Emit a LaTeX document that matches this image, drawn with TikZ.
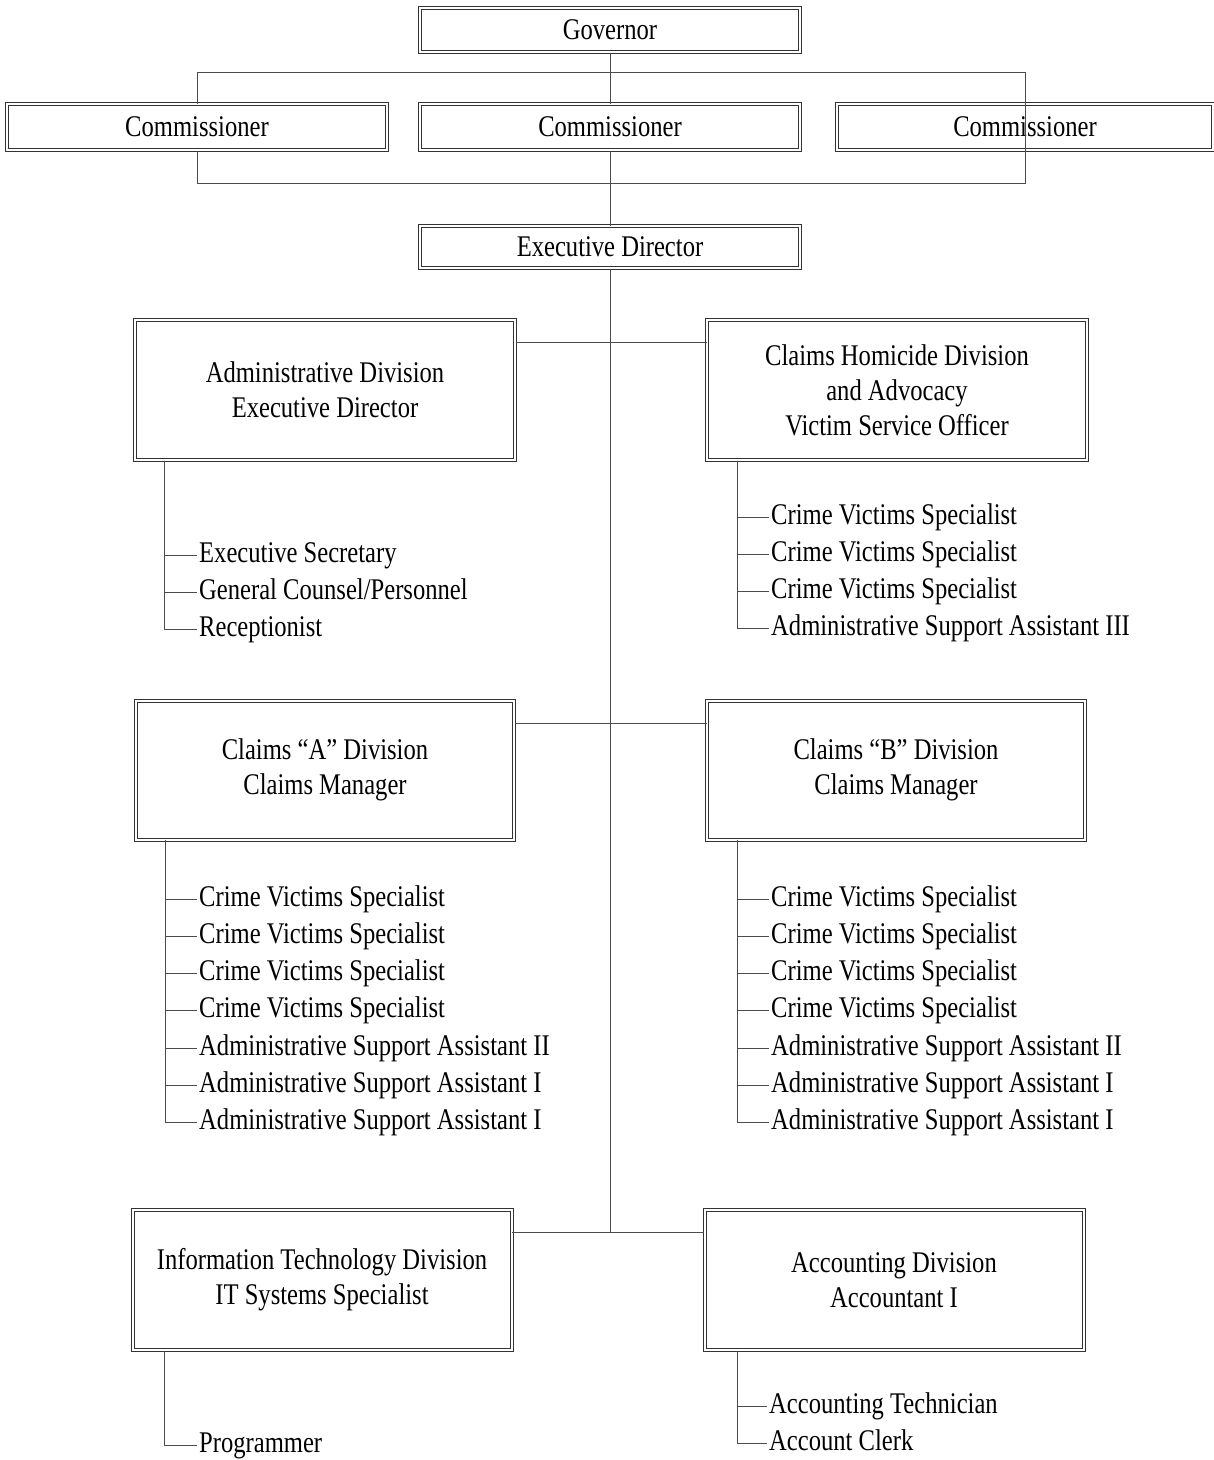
\documentclass[tikz,border=0pt]{standalone}
\usepackage{fontspec}
\setmainfont[FakeStretch=0.82]{Liberation Serif}
\usetikzlibrary{positioning}
\newcommand\chartfont{\fontsize{30}{35}\selectfont}

\begin{document}
\begin{tikzpicture}[
        x=1pt, y=-1pt,
        post/.style={draw=black!80, double=white, double distance=2pt, line width=1pt, rectangle, minimum width=#1, align=center, font=\chartfont, inner sep=2pt},
        post/.default=380pt,
        link/.style={draw=black!70, line width=0.8pt},
        staff/.style={anchor=west, inner xsep=2pt, inner ysep=0pt, text height=20pt, text depth=6pt, font=\chartfont}
    ]
        \useasboundingbox (0,0) rectangle (1214,1460);

        % Top boxes
        \node[post, minimum height=44pt] (gov) at (610,30) {Governor};
        \node[post, minimum height=46pt] (com2) at (610,127) {Commissioner};
        \node[post, minimum height=46pt, left=32pt of com2] (com1) {Commissioner};
        \node[post=376pt, minimum height=46pt, right=36pt of com2] (com3) {Commissioner};
        \node[post, minimum height=42pt] (exec) at (610,247) {Executive Director};

        % Divisions
        \node[post, minimum height=140pt] (admin) at (325,390) {Administrative Division\\Executive Director};
        \node[post, minimum height=140pt] (homicide) at (897,390) {Claims Homicide Division\\and Advocacy\\Victim Service Officer};
        \node[post=378pt, minimum height=139pt] (claimsA) at (325,770) {Claims ``A'' Division\\Claims Manager};
        \node[post=378pt, minimum height=139pt] (claimsB) at (896,770) {Claims ``B'' Division\\Claims Manager};
        \node[post=379pt, minimum height=140pt] (itdiv) at (322,1280) {Information Technology Division\\IT Systems Specialist};
        \node[post=379pt, minimum height=140pt] (acct) at (894,1280) {Accounting Division\\Accountant I};

        % Lines
        \coordinate (topbar) at (0,72);
        \coordinate (botbar) at (0,183);
        \coordinate (trunkend) at (610,1232);
        \draw[link] (gov) -- (com2);
        \draw[link] (com2) -- (exec);
        \draw[link] (com1.north) -- (com1.north |- topbar) -- (com3.north |- topbar)
            -- (com3.south |- botbar) -- (com1.south |- botbar) -- (com1.south);
        \draw[link] (exec) -- (trunkend);
        \draw[link] ([yshift=-23pt]admin.north east) -- ([yshift=-23pt]homicide.north west);
        \draw[link] ([yshift=-23pt]claimsA.north east) -- ([yshift=-23pt]claimsB.north west);
        \draw[link] (itdiv.east |- trunkend) -- (acct.west |- trunkend);

        % Staff lists
        \foreach \t [count=\i] in {Executive Secretary, General Counsel/Personnel, Receptionist} {
            \node[staff] (ad\i) at (197,518+37*\i) {\t};
            \draw[link] ([xshift=30pt]admin.south west) |- (ad\i.west);
        }
        \foreach \t [count=\i] in {Crime Victims Specialist, Crime Victims Specialist, Crime Victims Specialist, Administrative Support Assistant III} {
            \node[staff] (ho\i) at (769,480+37*\i) {\t};
            \draw[link] ([xshift=31pt]homicide.south west) |- (ho\i.west);
        }
        \foreach \t [count=\i] in {Crime Victims Specialist, Crime Victims Specialist, Crime Victims Specialist, Crime Victims Specialist, Administrative Support Assistant II, Administrative Support Assistant I, Administrative Support Assistant I} {
            \node[staff] (ca\i) at (197,862+37.2*\i) {\t};
            \draw[link] ([xshift=30pt]claimsA.south west) |- (ca\i.west);
            \node[staff] (cb\i) at (769,862+37.2*\i) {\t};
            \draw[link] ([xshift=31pt]claimsB.south west) |- (cb\i.west);
        }
        \node[staff] (prog) at (197,1445) {Programmer};
        \draw[link] ([xshift=32pt]itdiv.south west) |- (prog.west);
        \foreach \t [count=\i] in {Accounting Technician, Account Clerk} {
            \node[staff] (ac\i) at (767,1369+37*\i) {\t};
            \draw[link] ([xshift=33pt]acct.south west) |- (ac\i.west);
        }
    \end{tikzpicture}
\end{document}
